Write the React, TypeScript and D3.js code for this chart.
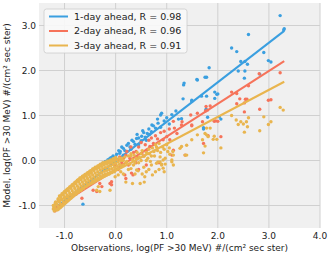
import { useEffect, useRef } from "react";
import * as d3 from "d3";

const W = 332;
const H = 258;
const MARGIN = { top: 3, right: 12, bottom: 30, left: 39 };

const X_TICKS = [-1, 0, 1, 2, 3, 4];
const Y_TICKS = [-1, 0, 1, 2, 3];

const SERIES_NAMES = ["1-day ahead, R = 0.98", "2-day ahead, R = 0.96", "3-day ahead, R = 0.91"];
const SERIES_COLORS = ["#3a9fe0", "#f6735a", "#e9b54e"];

// fit lines: [x0, y0, x1, y1]
const FIT_LINES: [number, number, number, number][] = [
  [-1.2, -1.07, 3.3, 2.88],
  [-1.2, -1.07, 3.3, 2.21],
  [-1.2, -0.95, 3.3, 1.75],
];

const BLUE_POINTS: [number, number][] = [
  [-1.2, -1.08], [-0.64, -0.97], [-0.25, -0.06], [-0.2, -0.02], [-0.15, 0.02], [-0.11, 0.05],
  [-0.05, 0.1], [0.0, 0.08], [0.02, 0.14], [0.06, 0.22], [0.08, 0.16], [0.12, 0.3], [0.15, 0.12],
  [0.18, 0.22], [0.22, 0.2], [0.25, 0.38], [0.28, 0.3], [0.32, 0.45], [0.38, 0.36], [0.42, 0.58],
  [0.45, 0.5], [0.5, 0.44], [0.55, 0.62], [0.58, 0.52], [0.65, 0.7], [0.7, 0.64], [0.78, 0.72],
  [0.82, 0.92], [0.95, 0.88], [1.0, 0.95], [1.1, 1.02], [1.18, 1.1],
  [-0.08, 0.07], [-0.01, 0.05], [0.09, 0.2], [0.15, 0.27], [0.22, 0.34], [0.3, 0.25], [0.35, 0.42],
  [0.41, 0.49], [0.45, 0.35], [0.51, 0.54], [0.53, 0.66], [0.62, 0.6], [0.66, 0.58], [0.6, 0.45],
  [0.71, 0.79], [0.74, 0.77], [0.83, 0.83], [0.88, 0.74], [0.88, 1.01], [0.9, 1.05], [1.05, 0.81],
  [1.23, 0.92], [1.29, 0.93], [1.32, 1.37], [1.33, 1.68], [1.34, 1.72], [1.49, 1.34], [1.49, 1.31],
  [1.59, 1.8], [1.6, 1.79], [1.68, 1.43], [1.72, 0.73], [1.72, 0.7], [1.75, 1.85], [1.78, 1.85],
  [1.77, 1.14], [1.78, 1.43], [1.8, 0.96], [1.83, 2.06], [1.94, 1.52], [1.94, 1.38], [1.98, 1.47],
  [2.0, 1.48], [2.03, 0.97], [2.06, 0.92], [2.27, 2.5], [2.37, 2.42], [2.4, 1.99], [2.45, 2.2],
  [2.52, 1.83], [2.53, 2.2], [2.53, 1.99], [2.58, 2.14], [2.6, 2.8], [2.82, 1.92], [2.9, 2.4],
  [2.99, 2.22], [3.04, 2.19], [3.22, 3.22], [3.29, 2.9], [3.3, 2.93],
];

const RED_POINTS: [number, number][] = [
  [-1.19, -1.12], [-0.66, -0.84], [-0.44, -0.66], [-0.37, -0.69], [-0.31, -0.51], [-0.27, -0.58],
  [-0.11, -0.51], [-0.08, -0.54], [-0.08, -0.47], [0.18, -0.32], [0.31, -0.28], [0.34, -0.32],
  [-0.1, -0.05], [0.0, -0.1], [0.08, 0.08], [0.12, -0.05], [0.22, 0.2], [0.3, 0.3], [0.35, 0.18],
  [0.45, 0.3], [0.5, 0.4], [0.58, 0.35], [0.65, 0.45], [0.7, 0.5], [0.78, 0.55], [0.82, 0.48],
  [0.88, 0.62], [0.95, 0.65], [1.05, 0.7], [1.15, 0.72], [1.2, 0.6], [0.25, -0.1], [0.4, -0.05],
  [0.45, -0.2], [0.6, -0.1], [0.2, -0.4], [0.05, -0.2],
  [0.05, 0.02], [0.15, 0.05], [0.2, 0.12], [0.28, 0.05], [0.4, 0.2], [0.41, 0.08], [0.51, 0.16],
  [0.55, 0.1], [0.61, 0.23], [0.67, 0.31], [0.74, 0.38], [0.85, -0.05], [0.93, 0.46], [1.0, 0.53],
  [1.06, 0.46], [1.1, 0.12], [1.13, 0.23], [1.13, 0.87], [1.29, 0.79], [1.3, 0.86], [1.36, 0.12],
  [1.47, 1.01], [1.49, 0.77], [1.49, 0.79], [1.6, 1.05], [1.7, 0.86], [1.72, 0.38], [1.76, 1.1],
  [1.77, 1.2], [1.8, 1.12], [1.81, 0.55], [1.85, 1.21], [1.93, 0.87], [1.96, 0.88], [2.0, 0.87],
  [2.06, 0.53], [2.27, 1.52], [2.37, 1.49], [2.37, 1.26], [2.43, 1.37], [2.52, 1.28], [2.52, 1.08],
  [2.54, 1.36], [2.57, 1.36], [2.6, 1.66], [2.81, 1.93], [2.82, 1.14], [2.99, 1.34], [3.04, 1.35],
  [3.22, 1.95],
];

const GOLD_POINTS: [number, number][] = [
  // dense band
  [-1.22, -1.08], [-1.22, -1.0], [-1.2, -1.12], [-1.18, -0.94], [-1.21, -1.05], [-1.19, -0.98],
  [-1.2, -1.02], [-1.15, -0.97], [-1.1, -0.92], [-1.05, -0.87], [-1.0, -0.82], [-0.95, -0.77],
  [-0.9, -0.72], [-0.85, -0.67], [-0.8, -0.62], [-0.75, -0.57], [-0.7, -0.52], [-0.65, -0.48],
  [-0.6, -0.44], [-0.55, -0.4], [-0.5, -0.36], [-0.45, -0.32], [-0.4, -0.28], [-0.35, -0.25],
  [-0.3, -0.21], [-0.25, -0.18], [-0.2, -0.16], [-0.15, -0.14], [-0.1, -0.12], [-0.05, -0.09],
  [0.0, -0.06], [0.05, -0.03], [0.1, 0.0],
  [-1.175, -0.92], [-1.125, -0.87], [-1.075, -0.82], [-1.025, -0.77], [-0.975, -0.72],
  [-0.925, -0.67], [-0.875, -0.62], [-0.825, -0.57], [-0.775, -0.52], [-0.725, -0.47],
  [-0.675, -0.43], [-0.625, -0.39], [-0.575, -0.35], [-0.525, -0.31], [-0.475, -0.27],
  [-0.425, -0.23], [-0.375, -0.19], [-0.325, -0.16], [-0.275, -0.13], [-0.225, -0.1],
  [-0.175, -0.08], [-0.125, -0.06], [-0.075, -0.04], [-0.025, -0.01], [0.025, 0.02], [0.075, 0.05],
  [-1.175, -1.07], [-1.125, -1.02], [-1.075, -0.97], [-1.025, -0.92], [-0.975, -0.87],
  [-0.925, -0.82], [-0.875, -0.77], [-0.825, -0.72], [-0.775, -0.67], [-0.725, -0.62],
  [-0.675, -0.57], [-0.625, -0.53], [-0.575, -0.49], [-0.525, -0.45], [-0.475, -0.41],
  [-0.425, -0.37], [-0.375, -0.33], [-0.325, -0.3], [-0.275, -0.27], [-0.225, -0.24],
  [-0.175, -0.22], [-0.125, -0.2], [-0.075, -0.18], [-0.025, -0.15], [0.025, -0.12], [0.075, -0.09],
  [-1.1, -0.79], [-1.05, -0.74], [-1.0, -0.69], [-0.95, -0.64], [-0.9, -0.59], [-0.85, -0.54],
  [-0.8, -0.49], [-0.75, -0.44], [-0.7, -0.39], [-0.65, -0.35], [-0.6, -0.31], [-0.55, -0.27],
  [-0.5, -0.23], [-0.45, -0.19], [-0.4, -0.15], [-0.35, -0.12], [-0.3, -0.08], [-0.25, -0.05],
  [-0.2, -0.03], [-0.15, -0.01], [-0.1, 0.01], [-0.05, 0.04], [0.0, 0.07],
  [-1.125, -0.85], [-1.075, -0.78], [-1.025, -0.72], [-0.975, -0.67], [-0.925, -0.62],
  [-0.875, -0.57], [-0.825, -0.52], [-0.775, -0.47], [-0.725, -0.42], [-0.675, -0.38],
  [-0.625, -0.34], [-0.575, -0.3], [-0.525, -0.26], [-0.475, -0.22], [-0.425, -0.18],
  [-0.375, -0.15], [-0.325, -0.11], [-0.275, -0.08], [-0.225, -0.06], [-0.175, -0.04],
  [-0.125, -0.02], [-0.075, 0.0], [-0.025, 0.03],
  [-1.15, -1.1], [-1.1, -1.06], [-1.05, -1.01], [-1.0, -0.96], [-0.95, -0.91], [-0.9, -0.86],
  [-0.85, -0.81], [-0.8, -0.76], [-0.75, -0.71], [-0.7, -0.66], [-0.65, -0.62], [-0.6, -0.58],
  [-0.55, -0.54], [-0.5, -0.5], [-0.45, -0.46], [-0.4, -0.42], [-0.35, -0.39], [-0.3, -0.35],
  [-0.25, -0.32], [-0.2, -0.3], [-0.15, -0.28], [-0.1, -0.26], [-0.05, -0.23], [0.0, -0.2],
  [0.05, -0.17],
  [-1.125, -1.09], [-1.075, -1.04], [-1.025, -0.99], [-0.975, -0.94], [-0.925, -0.89],
  [-0.875, -0.84], [-0.825, -0.79], [-0.775, -0.75], [-0.725, -0.7], [-0.675, -0.66],
  [-0.625, -0.62], [-0.575, -0.58], [-0.525, -0.54], [-0.475, -0.51], [-0.425, -0.48],
  [-0.375, -0.44], [-0.325, -0.41], [-0.275, -0.38], [-0.225, -0.35], [-0.175, -0.32],
  [-0.125, -0.3], [-0.075, -0.27], [-0.025, -0.25],
  // spread
  [0.12, 0.05], [0.15, -0.1], [0.18, 0.08], [0.22, -0.02], [0.25, 0.1], [0.28, -0.08], [0.3, 0.15],
  [0.33, 0.02], [0.36, 0.12], [0.38, -0.05], [0.42, 0.18], [0.46, 0.08], [0.5, 0.0], [0.52, 0.22],
  [0.56, 0.1], [0.6, 0.18], [0.63, 0.05], [0.66, 0.15], [0.68, -0.02], [0.72, 0.28], [0.76, 0.1],
  [0.78, 0.35], [0.82, 0.22], [0.85, 0.38], [0.88, 0.18], [0.92, 0.3], [0.95, 0.25], [1.0, 0.35],
  [1.02, 0.2], [1.05, 0.28], [0.1, -0.25], [0.15, -0.3], [0.3, -0.18], [0.38, -0.3], [0.52, -0.3],
  [0.65, -0.2], [0.72, -0.32], [0.78, -0.25], [0.85, -0.2], [0.95, -0.25],
  [-0.5, -0.25], [-0.49, -0.28], [-0.31, -0.69], [-0.11, -0.66], [-0.34, -0.58], [-0.37, -0.66],
  [-0.01, -0.36], [0.05, -0.32], [0.2, -0.48], [0.33, -0.51], [0.41, -0.21], [0.44, -0.23],
  [0.48, -0.51], [0.56, -0.48], [0.57, -0.36], [0.1, -0.12], [0.15, 0.0], [0.2, -0.05], [0.25, -0.2],
  [0.3, 0.1], [0.35, -0.1], [0.4, 0.05], [0.45, -0.05], [0.5, 0.15], [0.55, -0.15], [0.6, 0.0],
  [0.6, -0.25], [0.65, 0.25], [0.7, 0.1], [0.7, -0.1], [0.75, 0.2], [0.8, 0.3], [0.8, -0.06],
  [0.83, -0.03], [0.87, -0.03], [0.87, 0.08], [0.9, -0.08], [0.9, -0.1], [0.93, 0.01], [0.93, -0.17],
  [0.97, -0.08], [0.97, 0.05], [1.06, 0.14], [1.1, 0.01], [1.1, -0.03], [1.12, 0.2], [1.13, 0.12],
  [1.13, -0.1], [1.26, 0.27], [1.29, 0.31], [1.36, 0.12], [1.39, 0.34], [1.39, 0.12], [1.49, 0.46],
  [1.6, 0.57], [1.7, 0.46], [1.72, 0.17], [1.75, 0.6], [1.75, 0.32], [1.78, 0.72], [1.78, 0.57],
  [1.81, 0.53], [1.85, 0.72], [1.91, 0.47], [1.93, 0.54], [1.98, 0.47], [2.06, 0.28], [2.27, 1.0],
  [2.36, 0.9], [2.4, 0.8], [2.45, 0.86], [2.5, 0.81], [2.52, 0.63], [2.56, 0.86], [2.58, 0.75],
  [2.6, 0.95], [2.82, 0.66], [2.9, 0.97], [2.99, 0.8], [3.04, 0.86], [3.22, 1.18], [3.28, 1.12],
];

const SERIES_POINTS = [BLUE_POINTS, RED_POINTS, GOLD_POINTS];

export default function App() {
  const ref = useRef<SVGSVGElement>(null);

  useEffect(() => {
    const svg = d3.select(ref.current);
    svg.selectAll("*").remove();

    const innerW = W - MARGIN.left - MARGIN.right;
    const innerH = H - MARGIN.top - MARGIN.bottom;
    const x = d3.scaleLinear().domain([-1.5, 4.0]).range([0, innerW]);
    const y = d3.scaleLinear().domain([-1.5, 3.5]).range([innerH, 0]);

    const g = svg.append("g").attr("transform", `translate(${MARGIN.left},${MARGIN.top})`);

    g.append("rect").attr("width", innerW).attr("height", innerH).attr("fill", "#f0f0f0");

    // grid
    X_TICKS.forEach((v) => {
      g.append("line")
        .attr("x1", x(v)).attr("x2", x(v)).attr("y1", 0).attr("y2", innerH)
        .attr("stroke", "#d0d0d0").attr("stroke-width", 1);
    });
    Y_TICKS.forEach((v) => {
      g.append("line")
        .attr("x1", 0).attr("x2", innerW).attr("y1", y(v)).attr("y2", y(v))
        .attr("stroke", "#d0d0d0").attr("stroke-width", 1);
    });

    // scatter + fit line, one series after the other
    SERIES_POINTS.forEach((pts, i) => {
      g.append("g")
        .selectAll("circle")
        .data(pts)
        .join("circle")
        .attr("cx", (d) => x(d[0]))
        .attr("cy", (d) => y(d[1]))
        .attr("r", 1.7)
        .attr("fill", SERIES_COLORS[i]);
      const [x0, y0, x1, y1] = FIT_LINES[i];
      g.append("line")
        .attr("x1", x(x0)).attr("y1", y(y0))
        .attr("x2", x(x1)).attr("y2", y(y1))
        .attr("stroke", SERIES_COLORS[i])
        .attr("stroke-width", 2);
    });

    // tick labels
    X_TICKS.forEach((v) => {
      g.append("text")
        .attr("x", x(v)).attr("y", innerH + 11)
        .attr("text-anchor", "middle")
        .attr("font-size", 9).attr("fill", "#222")
        .text(v.toFixed(1));
    });
    Y_TICKS.forEach((v) => {
      g.append("text")
        .attr("x", -3).attr("y", y(v) + 3.2)
        .attr("text-anchor", "end")
        .attr("font-size", 9).attr("fill", "#222")
        .text(v.toFixed(1));
    });

    // axis labels
    g.append("text")
      .attr("x", innerW / 2).attr("y", innerH + 23)
      .attr("text-anchor", "middle")
      .attr("font-size", 9).attr("fill", "#222")
      .text("Observations, log(PF >30 MeV) #/(cm² sec ster)");
    g.append("text")
      .attr("transform", `translate(-29,${innerH / 2}) rotate(-90)`)
      .attr("text-anchor", "middle")
      .attr("font-size", 9).attr("fill", "#222")
      .text("Model, log(PF >30 MeV) #/(cm² sec ster)");

    // legend
    const lg = svg.append("g").attr("transform", "translate(44,9)");
    lg.append("rect")
      .attr("width", 143).attr("height", 44).attr("rx", 2.5)
      .attr("fill", "#f8f8f8").attr("fill-opacity", 0.9)
      .attr("stroke", "#cccccc").attr("stroke-width", 0.8);
    SERIES_NAMES.forEach((name, i) => {
      const ly = 7.5 + i * 14.5;
      lg.append("line")
        .attr("x1", 5).attr("x2", 24).attr("y1", ly).attr("y2", ly)
        .attr("stroke", SERIES_COLORS[i]).attr("stroke-width", 2);
      lg.append("text")
        .attr("x", 30).attr("y", ly + 3.4)
        .attr("font-size", 9.5).attr("fill", "#222")
        .text(name);
    });
  }, []);

  return (
    <svg
      ref={ref}
      width={W}
      height={H}
      style={{ position: "absolute", left: 0, top: 0, background: "white", fontFamily: "DejaVu Sans" }}
    />
  );
}
